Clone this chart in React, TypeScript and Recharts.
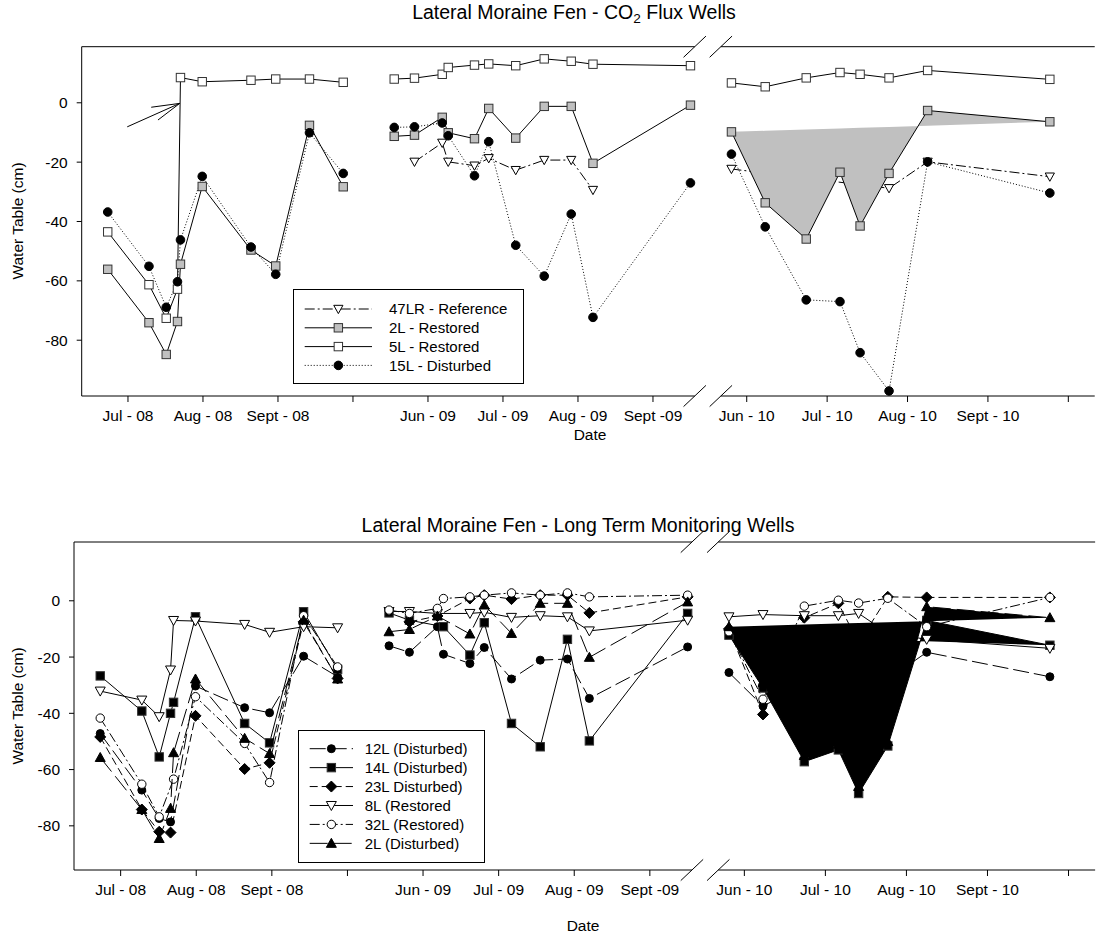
import React from "react";
import {
  ComposedChart,
  Line,
  Area,
  XAxis,
  YAxis,
  ReferenceLine,
  Legend
} from "recharts";

const FONT = '"Liberation Sans", Arial, Helvetica, sans-serif';

// sampling dates, as fractional month of the year (7.0 = 1 July)
const dates08 = [6.73, 7.28, 7.51, 7.66, 7.7, 7.99, 8.64, 8.97, 9.42, 9.87];
const dates09 = [5.55, 5.82, 6.19, 6.27, 6.62, 6.81, 7.17, 7.55, 7.91, 8.2, 9.5];
const dates10 = [5.81, 6.23, 6.74, 7.16, 7.41, 7.77, 8.25, 9.77];

// CO2 flux wells, water table (cm)
const flux47LR_09 = [null, -19.9, -13.5, -19.9, -21.2, -18.7, -22.7, -19.3, -19.3, -29.4, null];
const flux47LR_10 = [-22.3, null, null, null, null, -28.8, -19.9, -24.9];
const flux2L_08 = [-56.1, -74.1, -84.8, -73.7, -54.4, -28.2, -49.6, -55.0, -7.6, -28.3];
const flux2L_09 = [-11.3, -10.9, -4.9, -10.1, -12.1, -1.9, -11.9, -1.2, -1.2, -20.4, -0.8];
const flux2L_10 = [-9.8, -33.7, -45.9, -23.4, -41.5, -23.8, -2.6, -6.4];
const flux5L_08 = [-43.5, -61.3, -72.6, -62.8, 8.5, 7.1, 7.6, 8.0, 8.0, 6.9];
const flux5L_09 = [8.0, 8.3, 9.6, 11.9, 12.7, 13.1, 12.5, 14.8, 14.0, 13.0, 12.5];
const flux5L_10 = [6.7, 5.4, 8.4, 10.2, 9.6, 8.4, 10.9, 7.9];
const flux15L_08 = [-36.8, -55.1, -68.9, -60.3, -46.2, -24.8, -48.6, -57.8, -10.1, -23.8];
const flux15L_09 = [-8.3, -8.1, -6.8, -11.1, -24.6, -13.1, -48.0, -58.4, -37.5, -72.3, -27.0];
const flux15L_10 = [-17.3, -41.8, -66.4, -67.0, -84.2, -97.1, -19.9, -30.4];

// long term monitoring wells, water table (cm)
const ltm12L_08 = [-47.2, -67.3, -77.4, -78.6, null, -30.3, -38.0, -39.8, -19.7, -27.0];
const ltm12L_09 = [-16.0, -18.3, -9.2, -19.0, -22.3, -16.6, -27.8, -21.1, -20.7, -34.7, -16.4];
const ltm12L_10 = [-25.5, -37.4, -30.0, -27.0, -26.0, -28.0, -18.3, -27.0];
const ltm14L_08 = [-26.7, -39.2, -55.5, -40.0, -36.1, -5.7, -43.6, -50.5, -3.9, -24.4];
const ltm14L_09 = [-4.3, -6.9, null, -9.2, -19.3, -7.8, -43.6, -51.9, -13.7, -49.8, -4.5];
const ltm14L_10 = [-12.2, -31.0, -57.2, -53.0, -68.5, -51.6, -7.0, -15.8];
const ltm23L_08 = [-48.4, -74.2, -82.1, -82.4, null, -40.9, -59.8, -57.6, -7.5, -27.6];
const ltm23L_09 = [null, -7.5, -5.4, null, 0.8, 2.0, 0.6, 2.0, 2.0, -4.3, 1.4];
const ltm23L_10 = [-10.0, -40.4, -6.0, -0.9, -15.0, 1.4, 1.2, 1.2];
const ltm8L_08 = [-32.1, -35.3, -41.2, -24.6, -7.0, -7.2, -8.4, -11.2, -9.2, -9.6];
const ltm8L_09 = [-3.8, -3.8, -4.5, null, -4.5, -4.1, -5.9, -5.3, -5.7, -10.7, -6.9];
const ltm8L_10 = [-5.7, -4.9, -5.3, -5.3, -4.5, -11.5, -13.7, -16.9];
const ltm32L_08 = [-41.7, -65.2, -76.8, null, -63.4, -34.1, -50.7, -64.6, -5.3, -23.5];
const ltm32L_09 = [-3.3, -4.5, -2.7, 0.8, 1.4, 2.0, 2.8, 2.0, 2.8, 1.4, 2.0];
const ltm32L_10 = [-11.0, -35.0, -1.9, 0.2, -0.8, 0.9, -9.2, 1.2];
const ltm2L_08 = [-55.7, -74.2, -84.5, -73.8, -54.0, -27.8, -48.9, -54.3, -6.9, -27.8];
const ltm2L_09 = [-11.0, -10.2, -5.4, null, -11.8, -1.5, -11.6, -0.9, -0.9, -20.1, -0.4];
const ltm2L_10 = [-9.2, -29.0, -55.0, -51.0, -66.0, -50.0, -2.1, -6.0];

// x axis ticks: [year, month, label]
const tickMonths: [number, number, string][] = [
  [2008, 7, "Jul - 08"], [2008, 8, "Aug - 08"], [2008, 9, "Sept - 08"], [2008, 10, ""],
  [2009, 6, "Jun - 09"], [2009, 7, "Jul - 09"], [2009, 8, "Aug - 09"], [2009, 9, "Sept -09"],
  [2010, 6, "Jun - 10"], [2010, 7, "Jul - 10"], [2010, 8, "Aug - 10"], [2010, 9, "Sept - 10"], [2010, 10, ""]
];
const yTicks = [0, -20, -40, -60, -80];

// broken date axis: 2008 runs straight into 2009, then a break before 2010
const UMIN = -0.617;
const UMAX = 12.89;
const BREAK_A = 7.557;
const BREAK_B = 7.905;
const JUN10_POS = 8.25;
const MONTH10_WIDTH = 1.072;

function toAxis(year: number, month: number) {
  if (year === 2008) return month - 7;
  if (year === 2009) return month - 2;
  return JUN10_POS + (month - 6) * MONTH10_WIDTH;
}

const tickValues = tickMonths.map(([y, m]) => toAxis(y, m));
const tickLabel = (v: number) => {
  const i = tickValues.findIndex((t) => Math.abs(t - v) < 1e-6);
  return i >= 0 ? tickMonths[i][2] : "";
};

type Seg = { year: number; dates: number[]; vals: (number | null)[] };
type Pt = { x: number; y: number | null };

function buildLine(segs: Seg[]): Pt[] {
  const out: Pt[] = [];
  segs.forEach((s) => {
    const pts = s.dates
      .map((d, j) => ({ x: toAxis(s.year, d), y: s.vals[j] }))
      .filter((p) => p.y != null);
    if (out.length && pts.length) {
      out.push({ x: (out[out.length - 1].x + pts[0].x) / 2, y: null });
    }
    out.push(...pts);
  });
  return out;
}

// closed polygon of one segment: the series line plus the chord back to its first point
function buildFill(s: Seg) {
  const pts = s.dates
    .map((d, j) => ({ x: toAxis(s.year, d), v: s.vals[j] as number }))
    .filter((p) => p.v != null);
  const a = pts[0];
  const b = pts[pts.length - 1];
  return pts.map((p) => ({
    x: p.x,
    range: [a.v + ((b.v - a.v) * (p.x - a.x)) / (b.x - a.x), p.v]
  }));
}

type MarkerSpec = {
  shape: "circle" | "square" | "triDown" | "triUp" | "diamond";
  fill: string;
  size: number;
};

function Marker({ m, cx, cy }: { m: MarkerSpec; cx: number; cy: number }) {
  const s = m.size;
  const st = { fill: m.fill, stroke: "#000", strokeWidth: 1 };
  if (m.shape === "circle") return <circle cx={cx} cy={cy} r={s} {...st} />;
  if (m.shape === "square")
    return <rect x={cx - s} y={cy - s} width={2 * s} height={2 * s} {...st} stroke="#333" />;
  if (m.shape === "diamond")
    return <polygon points={`${cx},${cy - s} ${cx + s},${cy} ${cx},${cy + s} ${cx - s},${cy}`} {...st} />;
  if (m.shape === "triUp")
    return <polygon points={`${cx - s},${cy + s * 0.8} ${cx + s},${cy + s * 0.8} ${cx},${cy - s}`} {...st} />;
  return <polygon points={`${cx - s},${cy - s * 0.8} ${cx + s},${cy - s * 0.8} ${cx},${cy + s}`} {...st} />;
}

const dotFor = (m: MarkerSpec) => (props: any) => {
  const { cx, cy, index, payload } = props;
  if (cx == null || cy == null || payload == null || payload.y == null) return <g key={`d${index}`} />;
  return <Marker key={`d${index}`} m={m} cx={cx} cy={cy} />;
};

type SeriesDef = {
  label: string;
  segs: Seg[];
  dash?: string;
  marker: MarkerSpec;
  fill?: { seg: Seg; color: string };
};

const DASHDOT = "10 3 2 3";

const fluxSeries: SeriesDef[] = [
  {
    label: "47LR - Reference",
    segs: [
      { year: 2009, dates: dates09, vals: flux47LR_09 },
      { year: 2010, dates: dates10, vals: flux47LR_10 }
    ],
    dash: DASHDOT,
    marker: { shape: "triDown", fill: "#fff", size: 4.6 }
  },
  {
    label: "2L - Restored",
    segs: [
      { year: 2008, dates: dates08, vals: flux2L_08 },
      { year: 2009, dates: dates09, vals: flux2L_09 },
      { year: 2010, dates: dates10, vals: flux2L_10 }
    ],
    marker: { shape: "square", fill: "#c0c0c0", size: 4.2 },
    fill: { seg: { year: 2010, dates: dates10, vals: flux2L_10 }, color: "#c0c0c0" }
  },
  {
    label: "5L - Restored",
    segs: [
      { year: 2008, dates: dates08, vals: flux5L_08 },
      { year: 2009, dates: dates09, vals: flux5L_09 },
      { year: 2010, dates: dates10, vals: flux5L_10 }
    ],
    marker: { shape: "square", fill: "#fff", size: 4.2 }
  },
  {
    label: "15L - Disturbed",
    segs: [
      { year: 2008, dates: dates08, vals: flux15L_08 },
      { year: 2009, dates: dates09, vals: flux15L_09 },
      { year: 2010, dates: dates10, vals: flux15L_10 }
    ],
    dash: "1 2",
    marker: { shape: "circle", fill: "#000", size: 4.3 }
  }
];

const ltmSeries: SeriesDef[] = [
  {
    label: "12L (Disturbed)",
    segs: [
      { year: 2008, dates: dates08, vals: ltm12L_08 },
      { year: 2009, dates: dates09, vals: ltm12L_09 },
      { year: 2010, dates: dates10, vals: ltm12L_10 }
    ],
    dash: "16 5",
    marker: { shape: "circle", fill: "#000", size: 4 }
  },
  {
    label: "14L (Disturbed)",
    segs: [
      { year: 2008, dates: dates08, vals: ltm14L_08 },
      { year: 2009, dates: dates09, vals: ltm14L_09 },
      { year: 2010, dates: dates10, vals: ltm14L_10 }
    ],
    marker: { shape: "square", fill: "#000", size: 4.2 },
    fill: { seg: { year: 2010, dates: dates10, vals: ltm14L_10 }, color: "#000" }
  },
  {
    label: "23L Disturbed)",
    segs: [
      { year: 2008, dates: dates08, vals: ltm23L_08 },
      { year: 2009, dates: dates09, vals: ltm23L_09 },
      { year: 2010, dates: dates10, vals: ltm23L_10 }
    ],
    dash: "8 4",
    marker: { shape: "diamond", fill: "#000", size: 5.5 }
  },
  {
    label: "8L (Restored",
    segs: [
      { year: 2008, dates: dates08, vals: ltm8L_08 },
      { year: 2009, dates: dates09, vals: ltm8L_09 },
      { year: 2010, dates: dates10, vals: ltm8L_10 }
    ],
    marker: { shape: "triDown", fill: "#fff", size: 5 }
  },
  {
    label: "32L (Restored)",
    segs: [
      { year: 2008, dates: dates08, vals: ltm32L_08 },
      { year: 2009, dates: dates09, vals: ltm32L_09 },
      { year: 2010, dates: dates10, vals: ltm32L_10 }
    ],
    dash: DASHDOT,
    marker: { shape: "circle", fill: "#fff", size: 4.2 }
  },
  {
    label: "2L (Disturbed)",
    segs: [
      { year: 2008, dates: dates08, vals: ltm2L_08 },
      { year: 2009, dates: dates09, vals: ltm2L_09 },
      { year: 2010, dates: dates10, vals: ltm2L_10 }
    ],
    dash: "18 6",
    marker: { shape: "triUp", fill: "#000", size: 5 },
    fill: { seg: { year: 2010, dates: dates10, vals: ltm2L_10 }, color: "#000" }
  }
];

type LegendLayout = {
  left: number;
  top: number;
  w: number;
  h: number;
  row0: number;
  gap: number;
  line0: number;
  line1: number;
  textX: number;
};

function LegendBox({ series, lay }: { series: SeriesDef[]; lay: LegendLayout }) {
  return (
    <div style={{ width: lay.w, height: lay.h, border: "1px solid #000", boxSizing: "border-box", background: "#fff" }}>
      <svg width={lay.w - 2} height={lay.h - 2} style={{ display: "block" }}>
        {series.map((s, i) => {
          const y = lay.row0 + i * lay.gap;
          return (
            <g key={s.label}>
              <line x1={lay.line0} x2={lay.line1} y1={y} y2={y} stroke="#000" strokeDasharray={s.dash} />
              <Marker m={s.marker} cx={(lay.line0 + lay.line1) / 2} cy={y} />
              <text x={lay.textX} y={y} dy="0.36em" fontSize={15} fontFamily={FONT} fill="#000">
                {s.label}
              </text>
            </g>
          );
        })}
      </svg>
    </div>
  );
}

type PanelProps = {
  top: number;
  height: number;
  plotLeft: number;
  plotTop: number;
  plotBottom: number;
  pxPerU: number;
  yDomain: [number, number];
  series: SeriesDef[];
  layers: number[][]; // drawing order: later layers cover earlier ones
  legend: LegendLayout;
  arrow?: boolean;
};

// open arrow pointing at the 5L jump (annotation, data units)
const arrowTail = { x: toAxis(2008, 6.99), y: -8.1 };
const arrowTip = { x: toAxis(2008, 7.69), y: -0.2 };
const arrowWings = [
  { x: toAxis(2008, 7.31), y: -1.5 },
  { x: toAxis(2008, 7.4), y: -5.8 }
];

function Panel(p: PanelProps) {
  const [yMin, yMax] = p.yDomain;
  const plotRight = p.plotLeft + (UMAX - UMIN) * p.pxPerU;
  const pyPerUnit = (p.plotBottom - p.plotTop) / (yMax - yMin);
  const dU = 11.2 / p.pxPerU;
  const dY = 10.6 / pyPerUnit;
  const frame: { x: number; y: number }[][] = [];
  [yMin, yMax].forEach((y) => {
    frame.push([{ x: UMIN, y }, { x: BREAK_A, y }]);
    frame.push([{ x: BREAK_B, y }, { x: UMAX, y }]);
    [BREAK_A, BREAK_B].forEach((c) => frame.push([{ x: c - dU, y: y - dY }, { x: c + dU, y: y + dY }]));
  });
  if (p.arrow) {
    frame.push([arrowTail, arrowTip]);
    arrowWings.forEach((w) => frame.push([w, arrowTip]));
  }

  const seriesItems = (i: number) => {
    const s = p.series[i];
    const out: React.ReactNode[] = [];
    if (s.fill) {
      out.push(
        <Area
          key={`fill${i}`}
          data={buildFill(s.fill.seg)}
          dataKey="range"
          type="linear"
          stroke="none"
          fill={s.fill.color}
          fillOpacity={1}
          dot={false}
          activeDot={false}
          legendType="none"
          isAnimationActive={false}
        />
      );
    }
    out.push(
      <Line
        key={`line${i}`}
        data={buildLine(s.segs)}
        dataKey="y"
        type="linear"
        stroke="#000"
        strokeWidth={1}
        strokeDasharray={s.dash}
        dot={dotFor(s.marker)}
        activeDot={false}
        connectNulls={false}
        legendType="none"
        isAnimationActive={false}
      />
    );
    return out;
  };

  const tickStyle = { fontSize: 15.5, fill: "#000", fontFamily: FONT };
  const xAxisHeight = p.height - (p.plotBottom - p.top);

  return (
    <>
      {p.layers.map((idxs, li) => {
        const base = li === 0;
        const last = li === p.layers.length - 1;
        return (
          <div key={li} style={{ position: "absolute", left: 0, top: p.top }}>
            <ComposedChart
              width={1118}
              height={p.height}
              margin={{ top: p.plotTop - p.top, right: 1118 - plotRight, bottom: 0, left: 0 }}
            >
              <XAxis
                type="number"
                dataKey="x"
                domain={[UMIN, UMAX]}
                ticks={tickValues}
                tickFormatter={tickLabel}
                interval={0}
                allowDataOverflow
                axisLine={false}
                tickLine={base ? { stroke: "#000" } : false}
                tickSize={6}
                tickMargin={8}
                tick={base ? tickStyle : false}
                height={xAxisHeight}
              />
              <YAxis
                type="number"
                domain={p.yDomain}
                ticks={yTicks}
                allowDataOverflow
                axisLine={base ? { stroke: "#000" } : false}
                tickLine={base ? { stroke: "#000" } : false}
                tickSize={5}
                tickMargin={9}
                tick={base ? tickStyle : false}
                width={p.plotLeft}
              />
              {idxs.map((i) => seriesItems(i))}
              {last &&
                frame.map((seg, i) => (
                  <ReferenceLine key={`f${i}`} segment={seg} stroke="#000" strokeWidth={1} ifOverflow="visible" />
                ))}
              {last && (
                <Legend
                  layout="vertical"
                  align="center"
                  verticalAlign="middle"
                  wrapperStyle={{ left: p.legend.left, top: p.legend.top - p.top, width: p.legend.w, height: p.legend.h }}
                  content={() => <LegendBox series={p.series} lay={p.legend} />}
                />
              )}
            </ComposedChart>
          </div>
        );
      })}
    </>
  );
}

function Text({ x, y, size, children, rotate }: { x: number; y: number; size: number; children: React.ReactNode; rotate?: boolean }) {
  const w = 640;
  const h = 20;
  return (
    <div
      style={{
        position: "absolute",
        left: x - w / 2,
        top: y - h / 2,
        width: w,
        height: h,
        lineHeight: `${h}px`,
        textAlign: "center",
        fontSize: size,
        fontFamily: FONT,
        color: "#000",
        whiteSpace: "nowrap",
        transform: rotate ? "rotate(-90deg)" : undefined
      }}
    >
      {children}
    </div>
  );
}

export default function App() {
  return (
    <div style={{ position: "absolute", left: 0, top: 0, width: 1118, height: 936, background: "#fff", overflow: "hidden" }}>
      <Panel
        top={0}
        height={440}
        plotLeft={81.7}
        plotTop={46.7}
        plotBottom={396}
        pxPerU={75}
        yDomain={[-98.8, 18.9]}
        series={fluxSeries}
        layers={[[0], [1, 2, 3]]}
        arrow
        legend={{ left: 293.3, top: 289.3, w: 231, h: 95, row0: 19, gap: 18.8, line0: 10.7, line1: 78, textX: 95 }}
      />
      <Panel
        top={460}
        height={476}
        plotLeft={74}
        plotTop={542}
        plotBottom={870}
        pxPerU={75.6}
        yDomain={[-95.7, 20.9]}
        series={ltmSeries}
        layers={[[0], [1, 2, 3, 4], [5]]}
        legend={{ left: 298.3, top: 730, w: 187, h: 133, row0: 17.7, gap: 18.93, line0: 10.7, line1: 54, textX: 65.7 }}
      />
      <Text x={574} y={12} size={19.5}>
        Lateral Moraine Fen - CO<sub style={{ fontSize: "0.7em", verticalAlign: "-0.3em", lineHeight: 0 }}>2</sub> Flux Wells
      </Text>
      <Text x={578} y={525} size={19.5}>
        Lateral Moraine Fen - Long Term Monitoring Wells
      </Text>
      <Text x={590} y={435} size={15.5}>Date</Text>
      <Text x={583} y={926} size={15.5}>Date</Text>
      <Text x={18} y={221} size={15.5} rotate>Water Table (cm)</Text>
      <Text x={18} y={706} size={15.5} rotate>Water Table (cm)</Text>
    </div>
  );
}
